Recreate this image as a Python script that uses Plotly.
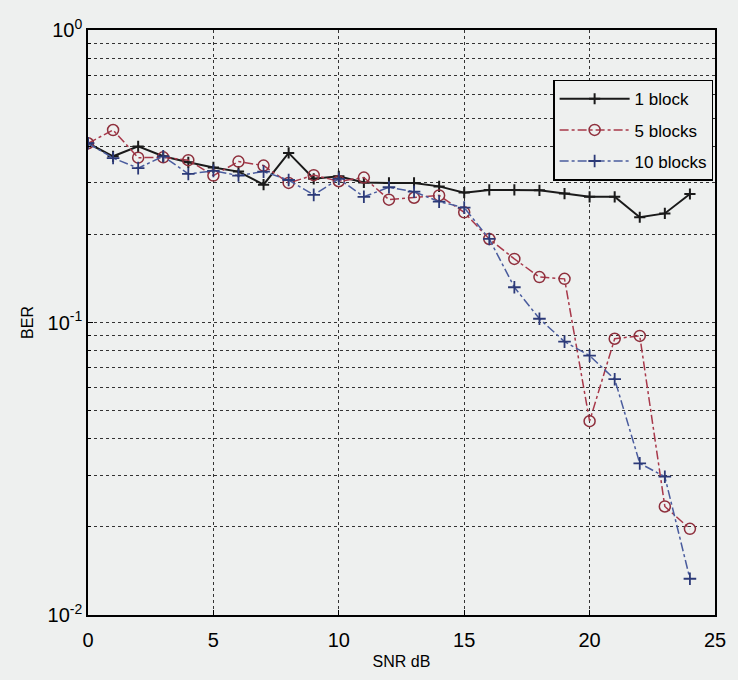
import plotly.graph_objects as go

# SNR axis (dB)
snr_db = list(range(0, 25))

# Bit error rate for each number of blocks
ber_1_block = [0.41, 0.37, 0.40, 0.37, 0.353, 0.339, 0.328, 0.296, 0.38, 0.31,
               0.316, 0.301, 0.30, 0.30, 0.292, 0.278, 0.284, 0.284, 0.283, 0.276,
               0.269, 0.269, 0.229, 0.236, 0.275]
ber_5_blocks = [0.41, 0.455, 0.366, 0.367, 0.359, 0.318, 0.355, 0.344, 0.30, 0.319,
                0.304, 0.313, 0.263, 0.267, 0.272, 0.238, 0.193, 0.165, 0.143, 0.141,
                0.046, 0.088, 0.090, 0.0235, 0.0197]
ber_10_blocks = [0.41, 0.365, 0.337, 0.37, 0.322, 0.33, 0.318, 0.328, 0.307, 0.273,
                 0.31, 0.269, 0.29, 0.28, 0.259, 0.247, 0.193, 0.132, 0.103, 0.086,
                 0.077, 0.064, 0.033, 0.0297, 0.0133]

series_names = ["1 block", "5 blocks", "10 blocks"]

# Minor gridlines of the log axis: 2..9 in each decade
minor_vals = [m * 10 ** e for e in (-2, -1) for m in range(2, 10)]

fig = go.Figure()

fig.add_trace(go.Scatter(
    x=snr_db, y=ber_1_block, name=series_names[0], mode="lines+markers",
    legendgroup="g1",
    line=dict(color="#1a1a1a", width=2),
    marker=dict(symbol="cross-thin", size=8, line=dict(color="#1a1a1a", width=2)),
))
fig.add_trace(go.Scatter(
    x=snr_db, y=ber_5_blocks, name=series_names[1], mode="lines+markers",
    legendgroup="g2",
    line=dict(color="#a8384a", width=1.5, dash="dashdot"),
    marker=dict(symbol="circle-open", size=11, color="#8e2f3c", line=dict(width=1.5)),
))
fig.add_trace(go.Scatter(
    x=snr_db, y=ber_10_blocks, name=series_names[2], mode="lines+markers",
    legendgroup="g3",
    line=dict(color="#4a5c9e", width=1.5, dash="dashdot"),
    marker=dict(symbol="cross-thin", size=9, line=dict(color="#2c3a78", width=1.8)),
))

tick_font = dict(family="Liberation Sans, Arial, sans-serif", size=20, color="black")
title_font = dict(family="Liberation Sans, Arial, sans-serif", size=16, color="black")

fig.update_layout(
    width=738, height=680,
    margin=dict(l=88, r=16, t=30, b=65),
    paper_bgcolor="#eef0ef",
    plot_bgcolor="#eef0ef",
    font=tick_font,
    showlegend=True,
    legend=dict(
        x=0.997, y=0.915, xanchor="right", yanchor="top",
        bgcolor="#eef0ef", bordercolor="black", borderwidth=1.5,
        font=dict(family="Liberation Sans, Arial, sans-serif", size=17, color="black"),
        itemwidth=70, tracegroupgap=6,
    ),
    xaxis=dict(
        range=[0, 25], tickmode="array", tickvals=[0, 5, 10, 15, 20, 25],
        ticks="inside", ticklen=5, tickcolor="black",
        showline=True, linecolor="black", linewidth=1.5, mirror=True,
        showgrid=True, gridcolor="#333333", griddash="dot", gridwidth=1,
        zeroline=False, ticklabelstandoff=6,
        title=dict(text="SNR dB", font=title_font, standoff=6),
        tickfont=tick_font,
    ),
    yaxis=dict(
        type="log", range=[-2, 0],
        tickmode="array", tickvals=[0.01, 0.1, 1],
        ticktext=["10<sup>-2</sup>", "10<sup>-1</sup>", "10<sup>0</sup>"],
        ticks="inside", ticklen=5, tickcolor="black",
        showline=True, linecolor="black", linewidth=1.5, mirror=True,
        showgrid=True, gridcolor="#333333", griddash="dot", gridwidth=1,
        minor=dict(tickmode="array", tickvals=minor_vals, showgrid=True,
                   gridcolor="#333333", griddash="dot", gridwidth=1,
                   ticks="inside", ticklen=3, tickcolor="black"),
        zeroline=False,
        title=dict(text="BER", font=title_font, standoff=10),
        tickfont=tick_font,
    ),
)

fig.write_html("out.html")
